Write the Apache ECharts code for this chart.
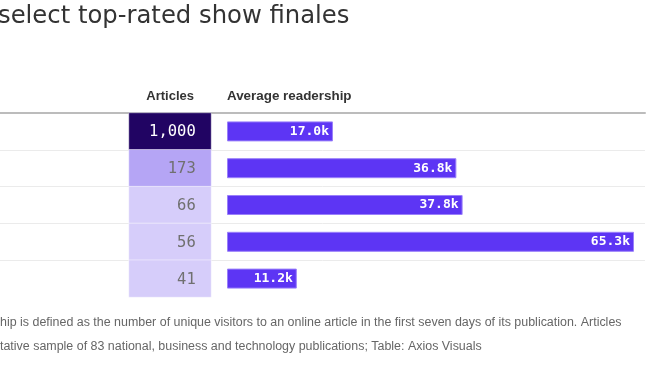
<!DOCTYPE html>
<html><head><meta charset="utf-8">
<script src="https://cdn.jsdelivr.net/npm/echarts@6/dist/echarts.min.js"></script>
<style>html,body{margin:0;padding:0;background:#fff}#c{width:668px;height:376px}</style>
</head><body><div id="c"></div>
<script>
const rows = ['Row 1', 'Row 2', 'Row 3', 'Row 4', 'Row 5'];
const articles = [1000, 173, 66, 56, 41];
const readershipK = [17.0, 36.8, 37.8, 65.3, 11.2];
const titleText = 'select top-rated show finales';
const headers = ['Articles', 'Average readership'];
const notes = [
  'hip is defined as the number of unique visitors to an online article in the first seven days of its publication. Articles',
  'tative sample of 83 national, business and technology publications; Table: Axios Visuals'
];

const chart = echarts.init(document.getElementById('c'));
const SANS = 'Liberation Sans, Arial, sans-serif';
const MONO = 'DejaVu Sans Mono, monospace';
chart.setOption({
  animation: false,
  title: [
    { text: titleText, left: -2, top: 5, padding: 0, textStyle: { fontFamily: 'DejaVu Sans, sans-serif', fontSize: 24.3, fontWeight: 'normal', color: '#333' } },
    { text: headers[0], right: 668 - 194, top: 90, padding: 0, textStyle: { fontFamily: SANS, fontSize: 13, fontWeight: 'bold', color: '#333' } },
    { text: headers[1], left: 227, top: 90, padding: 0, textStyle: { fontFamily: SANS, fontSize: 13.4, fontWeight: 'bold', color: '#333' } },
    { text: notes[0], left: 0, top: 317, padding: 0, textStyle: { fontFamily: SANS, fontSize: 12.45, fontWeight: 'normal', color: '#666' } },
    { text: notes[1], left: 0, top: 341, padding: 0, textStyle: { fontFamily: SANS, fontSize: 12.45, fontWeight: 'normal', color: '#666' } }
  ],
  grid: [
    { left: 0, width: 645, top: 113, height: 184 },
    { left: 129, width: 82, top: 113, height: 184 },
    { left: 227, width: 407, top: 113, height: 184 }
  ],
  xAxis: [
    { gridIndex: 0, type: 'value', position: 'top', min: 0, max: 1,
      axisLine: { show: true, lineStyle: { color: '#bcbcbc', width: 2 } },
      axisTick: { show: false }, axisLabel: { show: false }, splitLine: { show: false } },
    { gridIndex: 1, type: 'category', data: [headers[0]], show: false },
    { gridIndex: 2, type: 'value', min: 0, max: 'dataMax', show: false }
  ],
  yAxis: [
    { gridIndex: 0, type: 'category', data: rows, inverse: true,
      axisLine: { show: false }, axisTick: { show: false }, axisLabel: { show: false },
      splitLine: { show: true, showMinLine: false, showMaxLine: false, lineStyle: { color: '#ebebeb', width: 1 } } },
    { gridIndex: 1, type: 'category', data: rows, inverse: true, show: false },
    { gridIndex: 2, type: 'category', data: rows, inverse: true, show: false }
  ],
  visualMap: {
    type: 'piecewise', show: false, seriesIndex: 0, dimension: 2,
    pieces: [
      { gte: 500, color: '#210463' },
      { gte: 100, lt: 500, color: '#b5a5f5' },
      { lt: 100, color: '#d6cdfa' }
    ]
  },
  series: [
    {
      type: 'heatmap', xAxisIndex: 1, yAxisIndex: 1,
      data: articles.map((v, i) => ({ value: [0, i, v], label: v >= 500 ? { color: '#fff' } : undefined })),
      itemStyle: { borderColor: 'rgba(255,255,255,0.45)', borderWidth: 1 },
      label: {
        show: true, position: 'insideRight', distance: 16, offset: [0, 1],
        fontFamily: MONO, fontSize: 15.5,
        formatter: p => p.value[2].toLocaleString('en-US'),
        color: '#707070'
      },
      emphasis: { disabled: true }
    },
    {
      type: 'bar', xAxisIndex: 2, yAxisIndex: 2,
      data: readershipK, barWidth: 20,
      itemStyle: { color: '#5d35f4', borderColor: '#9a80fa', borderWidth: 1 },
      label: {
        show: true, position: 'insideRight', distance: 4,
        fontFamily: MONO, fontSize: 13, fontWeight: 'bold', color: '#fff',
        formatter: p => p.value.toFixed(1) + 'k'
      }
    }
  ]
});
</script></body></html>
